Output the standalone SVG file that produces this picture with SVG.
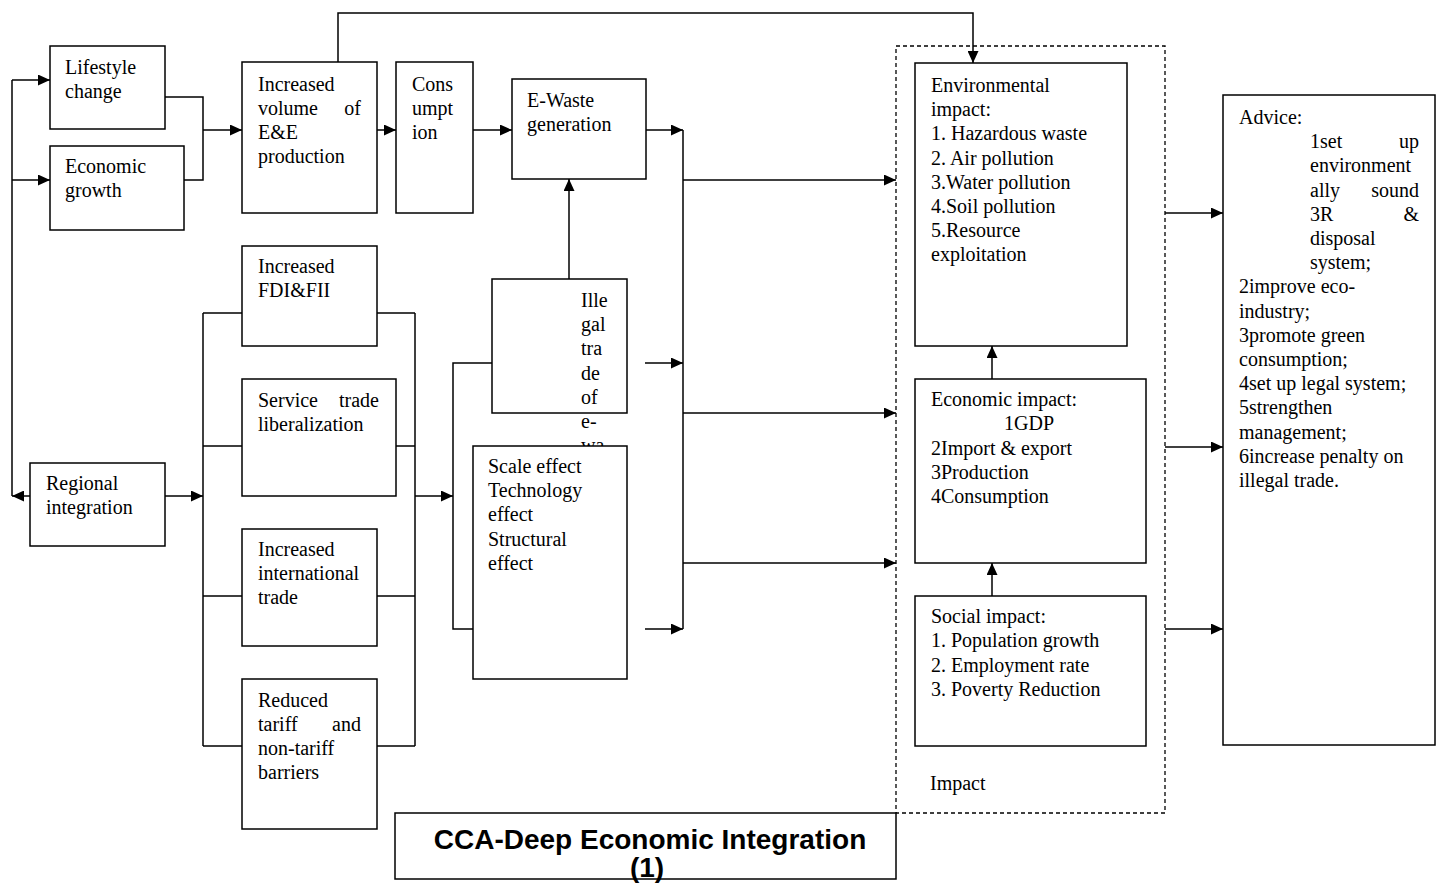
<svg xmlns="http://www.w3.org/2000/svg" width="1442" height="884" viewBox="0 0 1442 884">
<style>
.bx{fill:#fff;stroke:#000;stroke-width:1.5}
.ln{fill:none;stroke:#000;stroke-width:1.5}
.ar{fill:none;stroke:#000;stroke-width:1.5;marker-end:url(#ah)}
.dash{fill:none;stroke:#000;stroke-width:1.3;stroke-dasharray:4 3}
text{font-family:"Liberation Serif","Times New Roman",serif;font-size:20px;fill:#000}
.ttl{font-family:"Liberation Sans",Arial,sans-serif;font-weight:bold;font-size:28px}
</style>
<defs>
<marker id="ah" viewBox="0 0 12 11" refX="12" refY="5.5" markerWidth="12" markerHeight="11" markerUnits="userSpaceOnUse" orient="auto"><path d="M0,0 L12,5.5 L0,11 z" fill="#000"/></marker>
</defs>
<rect width="1442" height="884" fill="#fff"/>

<g id="impact-group">
<rect class="dash" x="896" y="46" width="269" height="767"/>
<text x="930" y="790">Impact</text>
</g>

<g id="connectors">
<path class="ln" d="M12,80 V496"/>
<path class="ar" d="M12,80 H50"/>
<path class="ar" d="M12,180 H50"/>
<path class="ar" d="M30,496 H12"/>
<path class="ln" d="M165,97 H203 V180 H184"/>
<path class="ar" d="M203,130 H242"/>
<path class="ar" d="M377,130 H396"/>
<path class="ar" d="M473,130 H512"/>
<path class="ar" d="M338,62 V13 H973 V63"/>
<path class="ar" d="M165,496 H203"/>
<path class="ln" d="M203,313 V746"/>
<path class="ln" d="M203,313 H242 M203,446 H242 M203,596 H242 M203,746 H242"/>
<path class="ln" d="M415,313 V746"/>
<path class="ln" d="M377,313 H415 M396,446 H415 M377,596 H415 M377,746 H415"/>
<path class="ar" d="M415,496 H453"/>
<path class="ln" d="M492,363 H453 V629 H473"/>
<path class="ar" d="M569,280 V179"/>
<path class="ar" d="M646,130 H683"/>
<path class="ar" d="M645,363 H683"/>
<path class="ar" d="M645,629 H683"/>
<path class="ln" d="M683,130 V629"/>
<path class="ar" d="M683,180 H896"/>
<path class="ar" d="M683,413 H896"/>
<path class="ar" d="M683,563 H896"/>
<path class="ar" d="M992,379 V346"/>
<path class="ar" d="M992,596 V563"/>
<path class="ar" d="M1165,213 H1223"/>
<path class="ar" d="M1165,447 H1223"/>
<path class="ar" d="M1165,629 H1223"/>
</g>

<g id="lifestyle">
<rect class="bx" x="50" y="46" width="115" height="83"/>
<text x="65" y="74">Lifestyle</text>
<text x="65" y="98">change</text>
</g>
<g id="economic-growth">
<rect class="bx" x="50" y="146" width="134" height="84"/>
<text x="65" y="173">Economic</text>
<text x="65" y="197">growth</text>
</g>
<g id="volume">
<rect class="bx" x="242" y="62" width="135" height="151"/>
<text x="258" y="91">Increased</text>
<text y="115"><tspan x="258">volume</tspan><tspan x="361" text-anchor="end">of</tspan></text>
<text x="258" y="139">E&amp;E</text>
<text x="258" y="163">production</text>
</g>
<g id="consumption">
<rect class="bx" x="396" y="62" width="77" height="151"/>
<text x="412" y="91">Cons</text>
<text x="412" y="115">umpt</text>
<text x="412" y="139">ion</text>
</g>
<g id="ewaste">
<rect class="bx" x="512" y="79" width="134" height="100"/>
<text x="527" y="107">E-Waste</text>
<text x="527" y="131">generation</text>
</g>
<g id="regional">
<rect class="bx" x="30" y="463" width="135" height="83"/>
<text x="46" y="490">Regional</text>
<text x="46" y="514">integration</text>
</g>
<g id="fdi">
<rect class="bx" x="242" y="246" width="135" height="100"/>
<text x="258" y="273">Increased</text>
<text x="258" y="297">FDI&amp;FII</text>
</g>
<g id="service">
<rect class="bx" x="242" y="379" width="154" height="117"/>
<text y="407"><tspan x="258">Service</tspan><tspan x="379" text-anchor="end">trade</tspan></text>
<text x="258" y="431">liberalization</text>
</g>
<g id="intl-trade">
<rect class="bx" x="242" y="529" width="135" height="117"/>
<text x="258" y="556">Increased</text>
<text x="258" y="580">international</text>
<text x="258" y="604">trade</text>
</g>
<g id="tariff">
<rect class="bx" x="242" y="679" width="135" height="150"/>
<text x="258" y="707">Reduced</text>
<text y="731"><tspan x="258">tariff</tspan><tspan x="361" text-anchor="end">and</tspan></text>
<text x="258" y="755">non-tariff</text>
<text x="258" y="779">barriers</text>
</g>
<g id="illegal">
<rect class="bx" x="492" y="279" width="135" height="134"/>
<text x="581" y="307">Ille</text>
<text x="581" y="331">gal</text>
<text x="581" y="355">tra</text>
<text x="581" y="380">de</text>
<text x="581" y="404">of</text>
<text x="581" y="428">e-</text>
<text x="581" y="452">wa</text>
</g>
<g id="effects">
<rect class="bx" x="473" y="446" width="154" height="233"/>
<text x="488" y="473">Scale effect</text>
<text x="488" y="497">Technology</text>
<text x="488" y="521">effect</text>
<text x="488" y="546">Structural</text>
<text x="488" y="570">effect</text>
</g>
<g id="env-impact">
<rect class="bx" x="915" y="63" width="212" height="283"/>
<text x="931" y="92">Environmental</text>
<text x="931" y="116">impact:</text>
<text x="931" y="140">1. Hazardous waste</text>
<text x="931" y="165">2. Air pollution</text>
<text x="931" y="189">3.Water pollution</text>
<text x="931" y="213">4.Soil pollution</text>
<text x="931" y="237">5.Resource</text>
<text x="931" y="261">exploitation</text>
</g>
<g id="econ-impact">
<rect class="bx" x="915" y="379" width="231" height="184"/>
<text x="931" y="406">Economic impact:</text>
<text x="1004" y="430">1GDP</text>
<text x="931" y="455">2Import &amp; export</text>
<text x="931" y="479">3Production</text>
<text x="931" y="503">4Consumption</text>
</g>
<g id="social-impact">
<rect class="bx" x="915" y="596" width="231" height="150"/>
<text x="931" y="623">Social impact:</text>
<text x="931" y="647">1. Population growth</text>
<text x="931" y="672">2. Employment rate</text>
<text x="931" y="696">3. Poverty Reduction</text>
</g>
<g id="advice">
<rect class="bx" x="1223" y="95" width="212" height="650"/>
<text x="1239" y="124">Advice:</text>
<text y="148"><tspan x="1310">1set</tspan><tspan x="1419" text-anchor="end">up</tspan></text>
<text x="1310" y="172">environment</text>
<text y="197"><tspan x="1310">ally</tspan><tspan x="1419" text-anchor="end">sound</tspan></text>
<text y="221"><tspan x="1310">3R</tspan><tspan x="1419" text-anchor="end">&amp;</tspan></text>
<text x="1310" y="245">disposal</text>
<text x="1310" y="269">system;</text>
<text x="1239" y="293">2improve eco-</text>
<text x="1239" y="318">industry;</text>
<text x="1239" y="342">3promote green</text>
<text x="1239" y="366">consumption;</text>
<text x="1239" y="390">4set up legal system;</text>
<text x="1239" y="414">5strengthen</text>
<text x="1239" y="439">management;</text>
<text x="1239" y="463">6increase penalty on</text>
<text x="1239" y="487">illegal trade.</text>
</g>
<g id="title">
<rect class="bx" x="395" y="813" width="501" height="66"/>
<text class="ttl" x="650" y="849" text-anchor="middle">CCA-Deep Economic Integration</text>
<text class="ttl" x="647" y="877" text-anchor="middle">(1)</text>
</g>
</svg>
